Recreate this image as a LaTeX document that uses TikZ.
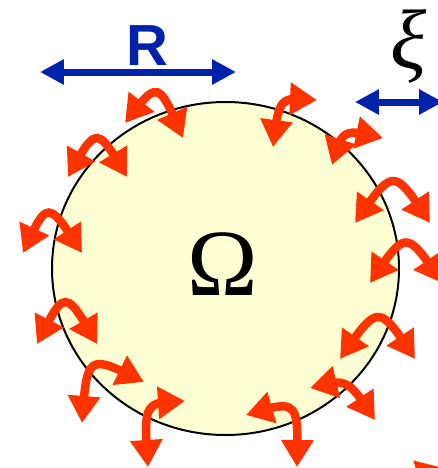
\documentclass[tikz,border=0pt]{standalone}
\usepackage{fontspec}
\setmainfont{Liberation Serif}
\setsansfont{Liberation Sans}
\usepackage{xcolor}
\usepackage{tikz}
\usetikzlibrary{arrows.meta,bending}
\definecolor{domainfill}{RGB}{255,255,212}
\definecolor{barblue}{RGB}{0,34,170}
\definecolor{fluxred}{RGB}{255,51,0}
\begin{document}
\begin{tikzpicture}[x=0.02cm, y=-0.02cm,
  flux/.style={draw=fluxred, line width=0.17cm, {Triangle[length=5.4mm,width=6.2mm,flex]}-{Triangle[length=5.4mm,width=6.2mm,flex]}},
  lengthbar/.style={draw=barblue, line width=0.14cm, {Triangle[length=4.8mm,width=4.8mm]}-{Triangle[length=4.8mm,width=4.8mm]}}]
\useasboundingbox (0,0) rectangle (438,468);
\clip (0,0) rectangle (438,468);
\draw[fill=domainfill, line width=0.04cm] (225.5,268.5) ellipse (173.5 and 166.5);
\node (omega) at (223,264) {\fontsize{54}{54}\selectfont Ω};
\draw[lengthbar] (40,72) -- (236,72);
\node[text=barblue] (rlabel) at (147,46) {\fontsize{33}{33}\selectfont\sffamily\bfseries R};
\draw[lengthbar] (355,102) -- (443,102);
\node[inner sep=0pt] (xilabel) at (409,46) {\fontsize{48}{48}\selectfont\itshape ξ};
\draw[flux] (125,123) .. controls (158,79.5) .. (183,138);
\draw[flux] (273,147) .. controls (279,96.5) .. (317,100);
\draw[flux] (332,165) .. controls (342.5,128.5) .. (383,138);
\draw[flux] (68,177) .. controls (96.5,125) .. (127,177);
\draw[flux] (23,253) .. controls (47.5,199) .. (82,253);
\draw[flux] (37,344) .. controls (65,288) .. (97,344);
\draw[flux] (82,423) .. controls (87,353.5) .. (144,382);
\draw[flux] (148,467) .. controls (143.5,402) .. (185,401);
\draw[flux] (246,415) .. controls (298.5,399) .. (297,467);
\draw[flux] (310,388) .. controls (347.5,378) .. (375,420);
\draw[flux] (340,359) .. controls (378.5,303) .. (415,359);
\draw[flux] (370,283) .. controls (406,229) .. (442,283);
\draw[flux] (355,223) .. controls (393.5,167) .. (430,223);
\draw[flux] (397,545) .. controls (402,480) .. (444,468);
\end{tikzpicture}
\end{document}
